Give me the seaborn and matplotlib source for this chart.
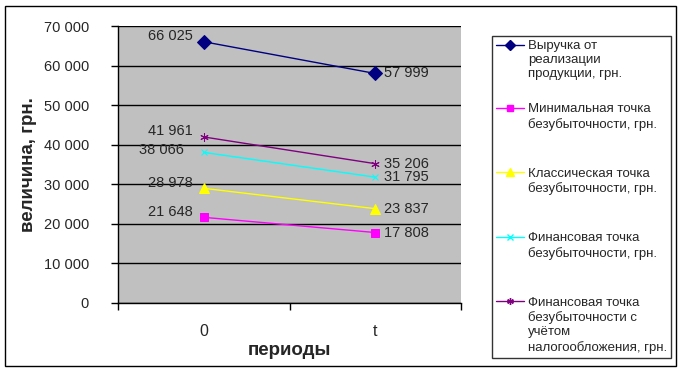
import numpy as np
import pandas as pd
import seaborn as sns
import matplotlib.pyplot as plt
from matplotlib.patches import Rectangle

periods = ['0', 't']
series_names = ['Выручка от\nреализации\nпродукции, грн.',
                'Минимальная точка\nбезубыточности, грн.',
                'Классическая точка\nбезубыточности, грн.',
                'Финансовая точка\nбезубыточности, грн.',
                'Финансовая точка\nбезубыточности с\nучётом\nналогообложения, грн.']
revenue = [66025, 57999]
min_bep = [21648, 17808]
classic_bep = [28978, 23837]
fin_bep = [38066, 31795]
fin_tax_bep = [41961, 35206]

colors = ['#000080', '#FF00FF', '#FFFF00', '#00FFFF', '#800080']
markers = ['D', 's', '^', 'x', (6, 2, 0)]
msizes = [7, 6, 7, 5, 6]

values = [revenue, min_bep, classic_bep, fin_bep, fin_tax_bep]

sns.set_style('white')
plt.rcParams['font.family'] = ['Liberation Sans', 'DejaVu Sans']

fig = plt.figure(figsize=(6.83, 3.71), dpi=100)
fig.patches.append(Rectangle((5 / 683, 5 / 371), 671 / 683, 360 / 371,
                             transform=fig.transFigure, fill=False,
                             edgecolor='black', linewidth=1))
ax = fig.add_axes([118 / 683, 68 / 371, 343 / 683, 277 / 371])
ax.set_facecolor('#C0C0C0')

for name, vals, c, m, ms in zip(series_names, values, colors, markers, msizes):
    d = pd.DataFrame({'pos': [0, 1], 'value': vals})
    sns.lineplot(data=d, x='pos', y='value', color=c, marker=m, markersize=ms,
                 markerfacecolor=c, markeredgecolor=c, linewidth=1, ax=ax,
                 label=name, legend=False)

# data labels
left_off = [(-8, 4), (-8, 4), (-8, 4), (-14, 2), (-8, 4)]
for vals, lo in zip(values, left_off):
    ax.annotate(f'{vals[0]:,}'.replace(',', ' '), (0, vals[0]), xytext=lo,
                textcoords='offset points', ha='right', va='center', fontsize=10.5)
    ax.annotate(f'{vals[1]:,}'.replace(',', ' '), (1, vals[1]), xytext=(6, 0),
                textcoords='offset points', ha='left', va='center', fontsize=10.5)

ax.set_xlim(-0.5, 1.5)
ax.set_ylim(0, 70000)
ax.set_yticks(np.arange(0, 70001, 10000))
ax.set_yticklabels([f'{v:,}'.replace(',', ' ') for v in range(0, 70001, 10000)], fontsize=10.5)
ax.set_xticks([0, 1])
ax.set_xticklabels(periods, fontsize=11.5)
ax.set_xticks([-0.5, 0.5, 1.5], minor=True)
ax.tick_params(axis='x', which='major', length=0, pad=15)
ax.tick_params(axis='x', which='minor', length=5, width=1, direction='out', color='black', bottom=True)
ax.tick_params(axis='y', length=5, width=1, direction='out', color='black', left=True, pad=16)
ax.yaxis.grid(True, color='black', linewidth=1)
ax.set_axisbelow(True)
for s in ['top', 'right']:
    ax.spines[s].set_visible(False)
for s in ['left', 'bottom']:
    ax.spines[s].set_color('black')
    ax.spines[s].set_linewidth(1)

ax.set_xlabel('периоды', fontsize=13.5, fontweight='bold', labelpad=2)
ax.set_ylabel('величина, грн.', fontsize=13.5, fontweight='bold', labelpad=5)

# Excel gives every legend entry a slot of equal height
n_lines = max(s.count('\n') + 1 for s in series_names)
leg_labels = [s + '\n' * (n_lines - 1 - s.count('\n')) for s in series_names]
handles = [plt.Line2D([], [], color=c, marker=m, markersize=ms * 0.8,
                      markerfacecolor=c, markeredgecolor=c, linewidth=1)
           for c, m, ms in zip(colors, markers, msizes)]
leg = fig.legend(handles, leg_labels, loc='upper left',
                 bbox_to_anchor=(492 / 683, 1 - 36 / 371), fontsize=9.5,
                 frameon=True, fancybox=False, edgecolor='black',
                 labelspacing=0.65, handlelength=2.1, handletextpad=0.35,
                 borderpad=0.3, borderaxespad=0)
leg.get_frame().set_linewidth(1)
for t in leg.get_texts():
    t.set_linespacing(1.25)
# handles sit next to the first text line, as in Excel
for col in leg._legend_handle_box.get_children():
    for item in col.get_children():
        item.align = 'top'

fig.savefig('out.png', dpi=100)
